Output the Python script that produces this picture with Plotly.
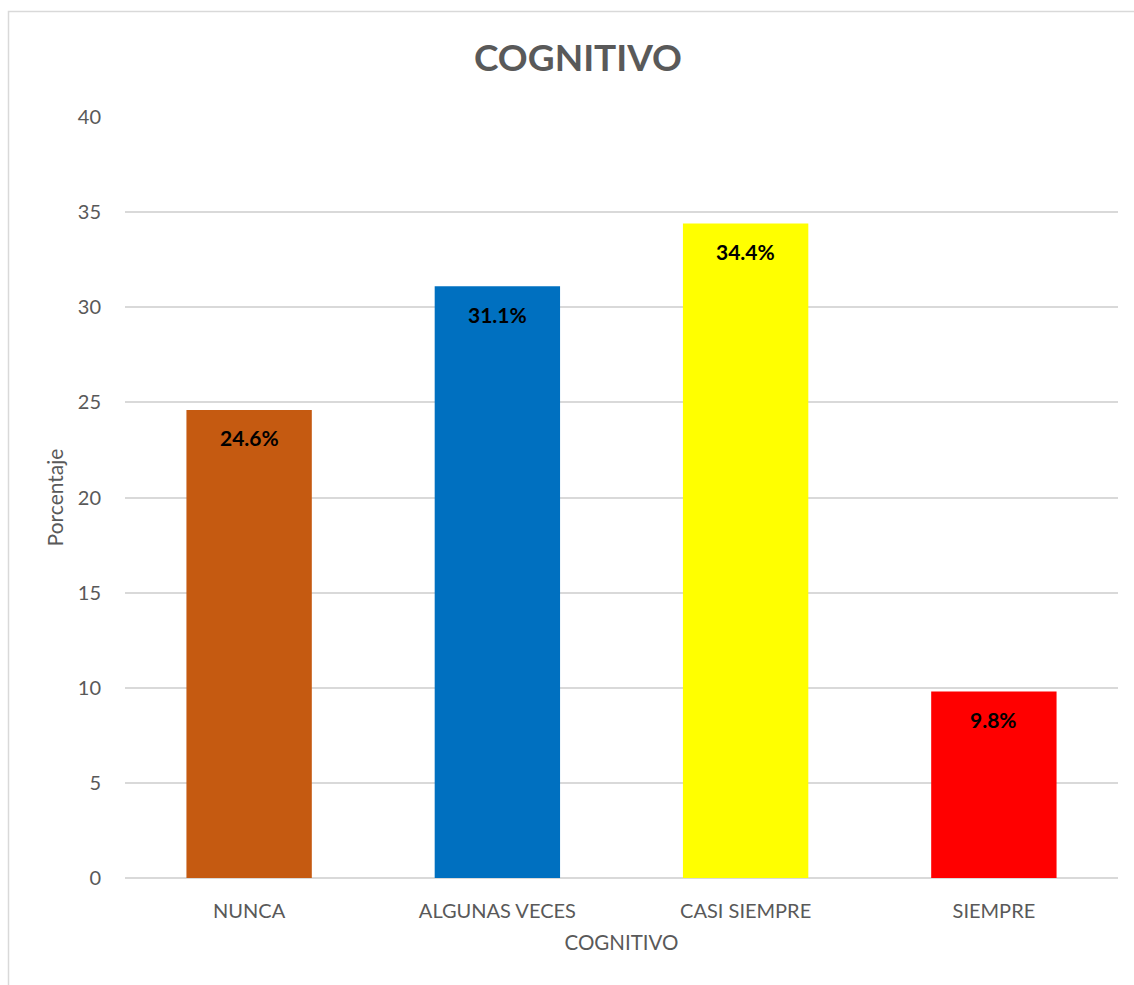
import plotly.graph_objects as go

categories = ["NUNCA", "ALGUNAS VECES", "CASI SIEMPRE", "SIEMPRE"]
values = [24.6, 31.1, 34.4, 9.8]
labels = ["24.6%", "31.1%", "34.4%", "9.8%"]
colors = ["#C55A11", "#0070C0", "#FFFF00", "#FF0000"]
y_ticks = [0, 5, 10, 15, 20, 25, 30, 35, 40]

FONT = "Lato, 'Open Sans', sans-serif"
W, H = 1134, 985
ML, MR, MT, MB = 125, 16, 117, 107
pw, ph = W - ML - MR, H - MT - MB

def px2x(px):
    return (px - ML) / pw

def py2y(py):
    return (H - MB - py) / ph

fig = go.Figure()
fig.add_trace(go.Bar(
    x=categories, y=values, marker=dict(color=colors, line=dict(width=0)),
    width=0.505, showlegend=False, hoverinfo="skip",
))

for c, v, t in zip(categories, values, labels):
    fig.add_annotation(x=c, y=v, text=f"<b>{t}</b>", showarrow=False,
                       yanchor="middle", yshift=-28,
                       font=dict(family=FONT, size=21, color="#000000"))

fig.add_shape(type="rect", xref="paper", yref="paper",
              x0=px2x(8.5), x1=px2x(1145), y0=py2y(1000), y1=py2y(11.5),
              line=dict(color="#D9D9D9", width=1.5), layer="below")

fig.update_layout(
    width=W, height=H,
    margin=dict(l=ML, r=MR, t=MT, b=MB),
    paper_bgcolor="white", plot_bgcolor="white",
    font=dict(family=FONT, color="#595959"),
    title=dict(text="<b>COGNITIVO</b>", x=px2x(578), xref="paper", xanchor="center",
               y=1 - 58 / H, yanchor="middle",
               font=dict(family=FONT, size=37, color="#595959")),
    xaxis=dict(title=dict(text="COGNITIVO", font=dict(size=20.5, color="#595959"), standoff=14),
               tickfont=dict(size=20, color="#595959"), showgrid=False,
               showline=False, ticks="", ticklabelstandoff=19),
    yaxis=dict(title=dict(text="Porcentaje", font=dict(size=21, color="#595959"), standoff=8),
               range=[0, 40], tickvals=y_ticks, tickfont=dict(size=20, color="#595959"),
               showgrid=True, gridcolor="#D9D9D9", gridwidth=1.5,
               zeroline=True, zerolinecolor="#D9D9D9", zerolinewidth=1.5,
               showline=False, ticks="", ticklabelstandoff=23),
    bargap=0.5,
)

fig.write_html("out.html")
